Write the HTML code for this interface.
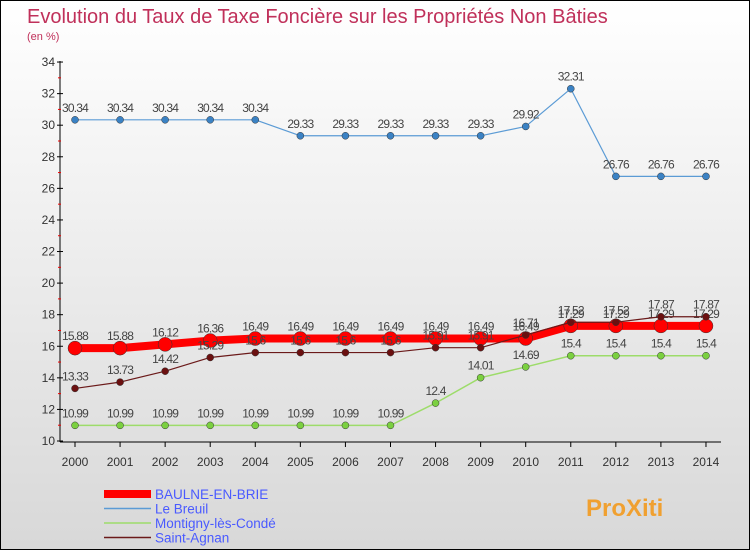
<!DOCTYPE html>
<html><head><meta charset="utf-8"><style>
body{margin:0}
#c{position:relative;width:748px;height:548px;border:1px solid #000;background:linear-gradient(#fff,#d8d8d8);font-family:"Liberation Sans",sans-serif;overflow:hidden}
</style></head><body>
<div id="c">
<svg id="s" width="748" height="548" xmlns="http://www.w3.org/2000/svg">
<text x="26" y="22" font-size="20" fill="#c0305a">Evolution du Taux de Taxe Foncière sur les Propriétés Non Bâties</text>
<text x="26" y="39" font-size="11" fill="#c0305a">(en %)</text>
</svg>
</div>
<script>
const years=[2000,2001,2002,2003,2004,2005,2006,2007,2008,2009,2010,2011,2012,2013,2014];
const yTicks=[10,12,14,16,18,20,22,24,26,28,30,32,34];
const baulne=[15.88,15.88,16.12,16.36,16.49,16.49,16.49,16.49,16.49,16.49,16.49,17.29,17.29,17.29,17.29];
const breuil=[30.34,30.34,30.34,30.34,30.34,29.33,29.33,29.33,29.33,29.33,29.92,32.31,26.76,26.76,26.76];
const montigny=[10.99,10.99,10.99,10.99,10.99,10.99,10.99,10.99,12.4,14.01,14.69,15.4,15.4,15.4,15.4];
const agnan=[13.33,13.73,14.42,15.29,15.6,15.6,15.6,15.6,15.91,15.91,16.71,17.52,17.52,17.87,17.87];
const names=["BAULNE-EN-BRIE","Le Breuil","Montigny-lès-Condé","Saint-Agnan"];
const s=document.getElementById('s');const NS="http://www.w3.org/2000/svg";
const x=i=>74+i*45.07, y=v=>440-(v-10)*15.79;
function el(t,a,p){const e=document.createElementNS(NS,t);for(const k in a)e.setAttribute(k,a[k]);(p||s).appendChild(e);return e;}
const ax=el('line',{x1:59,y1:60,x2:59,y2:441,stroke:'#000'});


const bx=el('line',{x1:59,y1:441,x2:720,y2:441,stroke:'#000'});


yTicks.forEach(v=>{el('line',{x1:56,y1:y(v),x2:62,y2:y(v),stroke:'#000'});
if(v<34)el('line',{x1:57,y1:y(v+1),x2:60,y2:y(v+1),stroke:'#e00'});
const t=el('text',{x:54,y:y(v)+4,'font-size':12,'text-anchor':'end',fill:'#333'});t.textContent=v;

});
years.forEach((yr,i)=>{el('line',{x1:x(i),y1:441,x2:x(i),y2:446,stroke:'#000'});
const t=el('text',{x:x(i),y:465,'font-size':12,'text-anchor':'middle',fill:'#333'});t.textContent=yr;

});
function series(d,col,w,r,fill,nm){
const g=el('g',{});


el('polyline',{points:d.map((v,i)=>x(i)+','+y(v)).join(' '),fill:'none',stroke:col,'stroke-width':w,'stroke-linejoin':'round'},g);
d.forEach((v,i)=>{el('circle',{cx:x(i),cy:y(v),r:r,fill:fill,stroke:'#333','stroke-width':0.5},g);
const t=el('text',{x:x(i),y:y(v)-8,'font-size':12,'text-anchor':'middle',fill:'#444','letter-spacing':'-0.8'},g);t.textContent=v;});}
series(breuil,'#5b9bd5',1.2,3.5,'#3b82c4','series-le-breuil');
series(montigny,'#9ddc6a',1.5,3.5,'#7bd040','series-montigny');
series(baulne,'#f00',8,7,'#f00','series-baulne');
series(agnan,'#6b1a1a',1.2,3.5,'#6b1010','series-saint-agnan');
const cols=['#f00','#5b9bd5','#9ddc6a','#6b1a1a'],ws=[8,1.5,1.5,1.5];
names.forEach((n,i)=>{const ly=493+i*14.5;
const g=el('g',{});


el('line',{x1:103,y1:ly,x2:150,y2:ly,stroke:cols[i],'stroke-width':ws[i]},g);
const t=el('text',{x:154,y:ly+5,'font-size':13.5,fill:'#4a5aff'},g);t.textContent=n;});
const p=el('text',{x:585,y:515,'font-size':24,'font-weight':'bold',fill:'#f0a030'});p.textContent='ProXiti';


</script>
</body></html>
